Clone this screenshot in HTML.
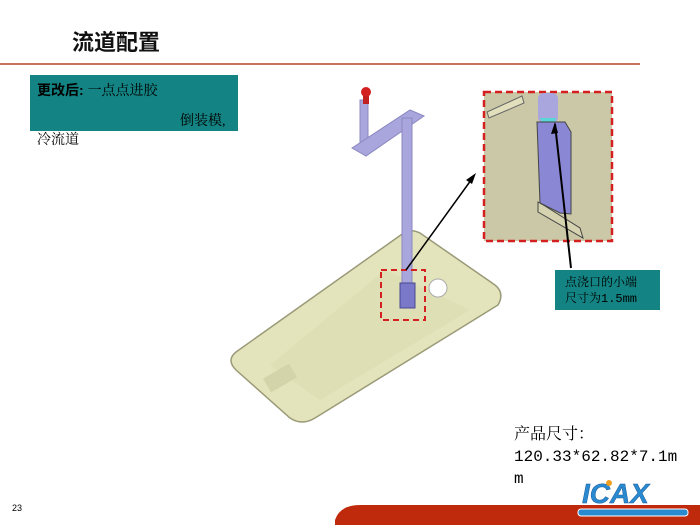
<!DOCTYPE html>
<html><head><meta charset="utf-8"><style>
body{margin:0;width:700px;height:525px;overflow:hidden;background:#fff;position:relative;font-family:"Liberation Sans","Noto Sans CJK SC",sans-serif}
.a{position:absolute;white-space:nowrap}
</style></head><body>
<svg width="700" height="525" style="position:absolute;left:0;top:0">
<line x1="0" y1="64" x2="640" y2="64" stroke="#b5442a" stroke-width="1.5"/>
<rect x="30" y="75" width="208" height="56" fill="#138483"/>
<path d="M405 232 Q412 229 420 233 L495 285 Q505 293 498 305 L315 418 Q302 426 290 418 L236 370 Q226 360 236 352 Z" fill="#e4e4bc" stroke="#9a9a78" stroke-width="1.5"/>
<path d="M385 270 L470 310 L320 400 L270 365 Z" fill="#dcdcb2" opacity="0.6"/>
<circle cx="438" cy="288" r="9" fill="#fff" stroke="#aaa"/>
<rect x="265" y="370" width="30" height="16" fill="#d4d4aa" transform="rotate(-30 280 378)"/>
<rect x="360" y="100" width="8" height="45" fill="#a9a6dd" stroke="#8a87c0"/>
<path d="M352 148 L410 110 L424 116 L366 156 Z" fill="#a9a6dd" stroke="#8a87c0"/>
<rect x="402" y="118" width="10" height="167" fill="#a9a6dd" stroke="#8a87c0"/>
<circle cx="366" cy="92" r="5" fill="#d32020"/>
<rect x="363" y="96" width="6" height="8" fill="#c02020"/>
<rect x="400" y="283" width="15" height="25" fill="#7a78c8" stroke="#4a4890"/>
<rect x="381" y="270" width="44" height="50" fill="none" stroke="#d42020" stroke-width="2" stroke-dasharray="6,4"/>
<rect x="484" y="92" width="128" height="149" fill="#cac8a6" stroke="#d42020" stroke-width="2.5" stroke-dasharray="7,4"/>
<path d="M487 112 L522 96 L524 103 L489 118 Z" fill="#e2dfbc" stroke="#666"/>
<rect x="538" y="93" width="20" height="30" rx="6" fill="#a9a6dd"/>
<path d="M540 118 L556 118 L553 130 L545 130 Z" fill="#5ad6d6"/>
<path d="M537 122 L565 122 L571 132 L571 214 L560 213 L540 203 Z" fill="#8a87d4" stroke="#444"/>
<path d="M538 202 L545 206 L580 228 L583 238 L538 212 Z" fill="#d6d3b0" stroke="#444"/>
<line x1="571" y1="268" x2="555" y2="124" stroke="#000" stroke-width="2"/>
<path d="M555 122 L551 134 L558 133 Z" fill="#000"/>
<line x1="406" y1="270" x2="474" y2="176" stroke="#000" stroke-width="1.5"/>
<path d="M476 173 L466 180 L472 184 Z" fill="#000"/>
<rect x="555" y="270" width="105" height="40" fill="#138483"/>
<path d="M335 525 L335 520 Q340 505 360 505 L700 505 L700 525 Z" fill="#c02a0c"/>
<text x="582" y="503" font-family="Liberation Sans" font-size="28" font-style="italic" font-weight="bold" fill="#2a8ad0" stroke="#1a5a9a" stroke-width="0.5">ICAX</text>
<rect x="578" y="509" width="110" height="7" rx="3" fill="#2a8ad0" stroke="#fff"/>
<circle cx="609" cy="483" r="3" fill="#f0a020"/>
</svg>
<div class="a" style="left:72px;top:25px;font-size:22px;font-weight:bold;color:#111">流道配置</div>
<div class="a" style="left:37px;top:80px;font-size:14px;font-weight:bold;color:#000">更改后: <span style="font-weight:normal;font-family:'Liberation Serif','Noto Serif CJK SC',serif">一点点进胶</span></div>
<div class="a" style="left:180px;top:110px;font-size:14px;font-family:'Liberation Serif','Noto Serif CJK SC',serif">倒装模,</div>
<div class="a" style="left:37px;top:129px;font-size:14px;font-family:'Liberation Serif','Noto Serif CJK SC',serif">冷流道</div>
<div class="a" style="left:565px;top:275px;font-size:12px;line-height:16px;font-family:'Liberation Mono','Noto Serif CJK SC',monospace">点浇口的小端<br>尺寸为1.5mm</div>
<div class="a" style="left:514px;top:424px;font-size:16px;line-height:22px;font-family:'Liberation Mono','Noto Serif CJK SC',monospace">产品尺寸：<br>120.33*62.82*7.1m<br>m</div>
<div class="a" style="left:12px;top:503px;font-size:9px">23</div>
</body></html>
